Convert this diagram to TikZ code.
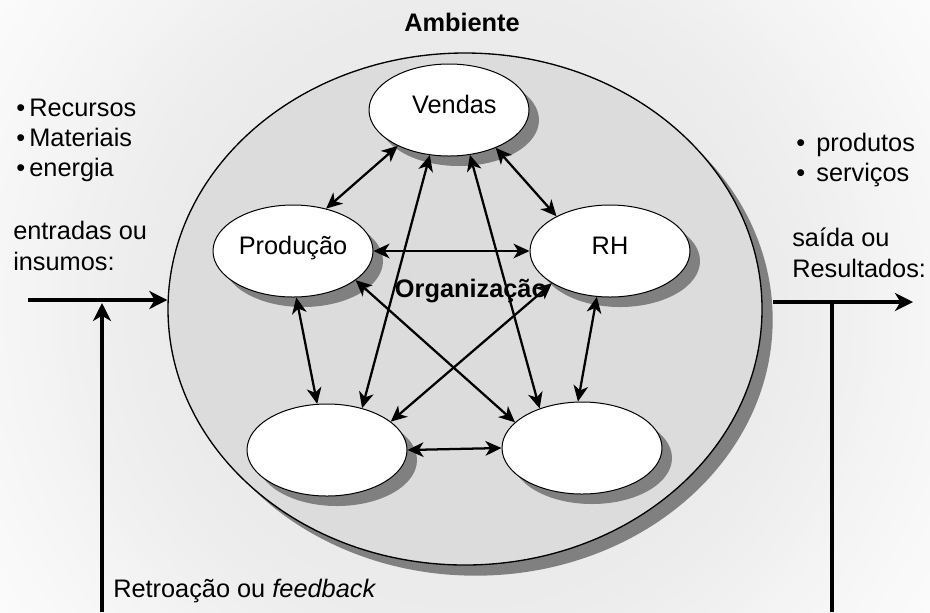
\documentclass[tikz,border=0pt]{standalone}
\usepackage{fontspec}
\setmainfont{Liberation Sans}
\usetikzlibrary{shapes,shadows,arrows.meta,calc}

\definecolor{orgfill}{HTML}{DCDCDC}
\definecolor{shadowgray}{HTML}{808080}
\definecolor{bgcenter}{HTML}{EBEBEB}
\newcommand{\sizetxt}{\fontsize{19}{22.5}\selectfont}

\begin{document}
\begin{tikzpicture}[x=0.75pt,y=-0.75pt,font=\sizetxt,
        sub/.style={ellipse,draw,line width=0.75pt,fill=white,
            minimum width=120pt,minimum height=69pt,inner sep=0pt,
            text height=14pt,text depth=9.4pt,
            drop shadow={shadow xshift=7.5pt,shadow yshift=-7.5pt,
                fill=shadowgray,opacity=1}},
        link/.style={<->,>={Stealth[length=12pt,width=11pt,inset=3.5pt]},
            line width=1.7pt},
        flow/.style={->,>={Stealth[length=13.5pt,width=13.5pt,inset=4pt]},
            line width=2.5pt},
        txt/.style={inner sep=0pt,align=left}
        ]
        \useasboundingbox (0,0) rectangle (930,612);
        % ambiente ao fundo
        \begin{scope}
            \clip (0,0) rectangle (930,612);
            \fill[white] (0,0) rectangle (930,612);
            \foreach \i in {0,...,40}{
                \pgfmathsetmacro{\rr}{465-6*\i}
                \pgfmathsetmacro{\pc}{2.5*\i}
                \fill[bgcenter!\pc!white] (465,309) circle (\rr pt);
            }
        \end{scope}
        \node[ellipse,draw,line width=1pt,fill=orgfill,
            minimum width=445.5pt,minimum height=384pt,
            drop shadow={shadow xshift=8pt,shadow yshift=-8pt,
                fill=shadowgray,opacity=1}] (org) at (465,309) {};
        \node[font=\sizetxt\bfseries] (ambiente) at (462,22) {Ambiente};

        % setores da organizacao
        \node[sub] (vendas) at (449,110) {\hspace*{8pt}Vendas};
        \node[sub] (producao) at (293,251) {Produção};
        \node[sub] (rh) at (610,251) {RH};
        \node[sub] (infE) at (327,450) {};
        \node[sub] (infD) at (582,448) {};

        \draw[link] (vendas.215) -- (producao.52);
        \draw[link] (vendas.321) -- (rh.147);
        \draw[link] (producao.east) -- (rh.west);
        \draw[link] (producao.274) -- (infE.102);
        \draw[link] (rh.254) -- (infD.95);
        \draw[link] (infE.east) -- (infD.west);
        \draw[link] (vendas.247) -- (infE.50);
        \draw[link] (vendas.295) -- (infD.137);
        \draw[link] (producao.335) -- (infD.159);
        \draw[link] (rh.209) -- (infE.24);
        \node[font=\sizetxt\bfseries,anchor=base] (orgtxt) at (471,297) {Organização};

        %% entradas, saidas e retroacao
        \node[txt,anchor=base west] (recursos) at (16,176)
            {•\,Recursos\\•\,Materiais\\•\,energia};
        \node[txt,anchor=base west] (entradas) at (13,270)
            {entradas ou\\[0.75pt]insumos:};
        \node[txt,anchor=base west] (produtos) at (796,181)
            {•\ \,produtos\\•\ \,serviços};
        \node[txt,anchor=base west] (saida) at (792,277)
            {saída ou\\[0.75pt]Resultados:};
        \node[txt,anchor=base west] (retro) at (113,597)
            {Retroação ou \textit{feedback}};

        \coordinate (entra) at (28,300);
        \coordinate (sai) at (913,302);
        \coordinate (retroE) at (102,612);
        \coordinate (retroD) at (832,612);
        \draw[flow] (entra) -- (entra -| org.west);
        \draw[flow] ($(org.east |- sai)+(8pt,0)$) -- (sai);
        \draw[flow,line width=2.4pt] (retroE) -- ($(retroE |- entra)+(0,3)$);
        \draw[line width=2.4pt] (retroD) -- (retroD |- sai);
    \end{tikzpicture}
\end{document}
